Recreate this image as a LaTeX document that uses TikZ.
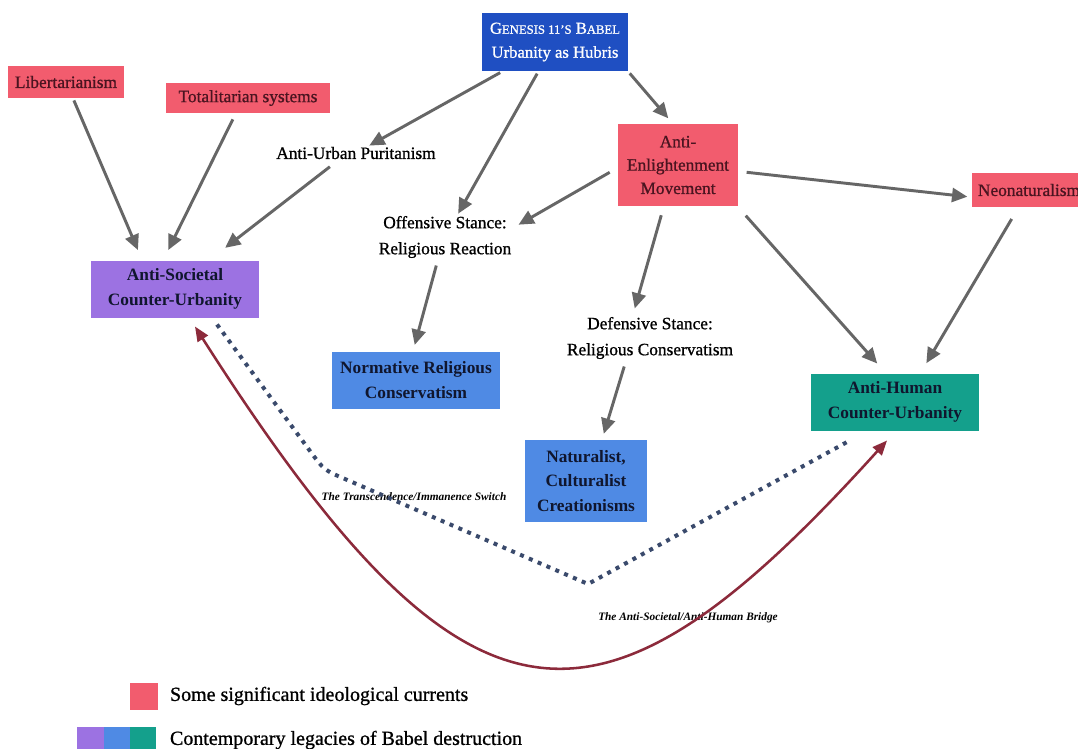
\documentclass[tikz,border=0pt]{standalone}
\usepackage{fontspec}
\setmainfont{Liberation Serif}
\newfontfamily\medfont[FakeBold=0.9]{Liberation Serif}
\usetikzlibrary{arrows.meta,calc}
\definecolor{pinkc}{HTML}{F25C6E}
\definecolor{pinktxt}{HTML}{4A1420}
\definecolor{genblue}{HTML}{1F4FC2}
\definecolor{purplec}{HTML}{9C72E2}
\definecolor{bluec}{HTML}{4F8AE4}
\definecolor{tealc}{HTML}{14A08C}
\definecolor{darktxt}{HTML}{10162E}
\definecolor{arrgray}{HTML}{666666}
\definecolor{dotnavy}{HTML}{3A4A6C}
\definecolor{redc}{HTML}{8C2A3B}
\newcommand\mysmcap[1]{{\fontsize{9.5}{12}\selectfont #1}}
\begin{document}
\begin{tikzpicture}[x=0.75pt,y=-0.75pt,
  every node/.style={inner sep=0pt, outer sep=0pt},
  basebox/.style={align=center, font=\fontsize{13}{18}\selectfont},
  pinkbox/.style={basebox, fill=pinkc, text=pinktxt, font=\medfont\fontsize{13}{18}\selectfont},
  legacybox/.style={basebox, text=darktxt, font=\bfseries\fontsize{13}{19}\selectfont,
     minimum width=126pt, minimum height=42.75pt},
  plainlbl/.style={align=center, text=black, font=\medfont\fontsize{13}{19.5}\selectfont},
  italbl/.style={text=black, font=\bfseries\itshape\fontsize{8.5}{10}\selectfont},
  arr/.style={draw=arrgray, line width=2.2pt, -{Triangle[length=11.5pt,width=10.5pt]},
     shorten >=2pt, shorten <=2pt},
  dotline/.style={draw=dotnavy, line width=3pt, dash pattern=on 3pt off 4.2pt},
  bridge/.style={draw=redc, line width=1.9pt,
     {Triangle[length=11pt,width=9pt]}-{Triangle[length=11pt,width=9pt]}},
  legtxt/.style={anchor=west, text=black, font=\medfont\fontsize{15}{17}\selectfont}
]
\useasboundingbox (0,0) rectangle (1078,749);
\clip (0,0) rectangle (1078,749);
\fill[white] (0,0) rectangle (1078,749);

% ---------- nodes ----------
\node[basebox, fill=genblue, text=white, minimum width=109.5pt, minimum height=44pt,
      font=\medfont\fontsize{12.5}{18}\selectfont] (gen) at (555,42)
  {G\mysmcap{ENESIS 11’S} B\mysmcap{ABEL}\\Urbanity as Hubris};
\node[pinkbox, minimum width=87pt, minimum height=24pt] (lib) at (66,82) {Libertarianism};
\node[pinkbox, minimum width=123pt, minimum height=22.5pt] (tot) at (248,98) {Totalitarian systems};
\node[pinkbox, minimum width=90pt, minimum height=61pt, font=\medfont\fontsize{13}{17.5}\selectfont] (ae) at (678,165)
  {Anti-\\Enlightenment\\Movement};
\node[pinkbox, anchor=west, inner xsep=4.5pt, minimum height=25pt] (neo) at (972,190) {Neonaturalism};

\node[plainlbl] (aup) at (356,153) {Anti-Urban Puritanism};
\node[plainlbl] (off) at (445,237) {Offensive Stance:\\Religious Reaction};
\node[plainlbl] (def) at (650,338) {Defensive Stance:\\Religious Conservatism};

\node[legacybox, fill=purplec] (as) at (175,289) {Anti-Societal\\Counter-Urbanity};
\node[legacybox, fill=bluec] (norm) at (416,380) {Normative Religious\\Conservatism};
\node[legacybox, fill=tealc] (ah) at (895,402) {Anti-Human\\Counter-Urbanity};
\node[legacybox, fill=bluec, minimum width=92pt, minimum height=61pt,
      font=\bfseries\fontsize{13}{18.4}\selectfont] (nat) at (586,481)
  {Naturalist,\\Culturalist\\Creationisms};

\node[italbl] (tlbl) at (414,497) {The Transcendence/Immanence Switch};
\node[italbl] (blbl) at (688,618) {The Anti-Societal/Anti-Human Bridge};

% ---------- arrows ----------
\draw[arr] (gen) -- (aup);
\draw[arr] (gen) -- (off);
\draw[arr] (gen.south east) -- ($(ae.north)+(-8,-4)$);
\draw[arr] (lib) -- ($(as.north)+(-36,-8)$);
\draw[arr] ($(tot.south)+(-14,4)$) -- ($(as.north)+(-8,-8)$);
\draw[arr] ($(aup.south)+(-24,6)$) -- ($(as.north east)+(-36,-11)$);
\draw[arr] ($(ae.west)+(-6,6)$) -- ($(off.north east)+(5,10)$);
\draw[arr] ($(ae.east)+(6,7)$) -- ($(neo.west)+(-2,7)$);
\draw[arr] ($(ae.south)+(-16,7)$) -- ($(def.north)+(-16,-6)$);
\draw[arr] ($(ae.south east)+(6,8)$) -- ($(ah.north)+(-16,-8)$);
\draw[arr] ($(neo.south)+(-16,10)$) -- ($(ah.north)+(30,-8)$);
\draw[arr] ($(off.south)+(-8,5)$) -- ($(norm.north)+(-2,-4)$);
\draw[arr] ($(def.south)+(-25,5)$) -- ($(nat.north)+(17,-4)$);

% ---------- dotted switch ----------
\coordinate (d2) at (588,584);
\draw[dotline] ($(as.south)+(42,7)$) -- (310,451) .. controls (324,470) .. (345,479)
  -- (d2) -- ($(ah.south west)+(37,11)$);

% ---------- bridge ----------
\draw[bridge] ($(as.south)+(20,9)$) .. controls (470,758) and (600,758) .. ($(ah.south)+(-8,10)$);

% ---------- legend ----------
\node[fill=pinkc, minimum width=21pt, minimum height=20.25pt] (lg1) at (144,696.5) {};
\node[legtxt] (lt1) at (170,696) {Some significant ideological currents};
\node[fill=purplec, minimum width=20.25pt, minimum height=27pt] (lg2a) at (90.5,745) {};
\node[fill=bluec, minimum width=19.5pt, minimum height=27pt] (lg2b) at (117,745) {};
\node[fill=tealc, minimum width=19.5pt, minimum height=27pt] (lg2c) at (143,745) {};
\node[legtxt] (lt2) at (170,740) {Contemporary legacies of Babel destruction};
\end{tikzpicture}
\end{document}
